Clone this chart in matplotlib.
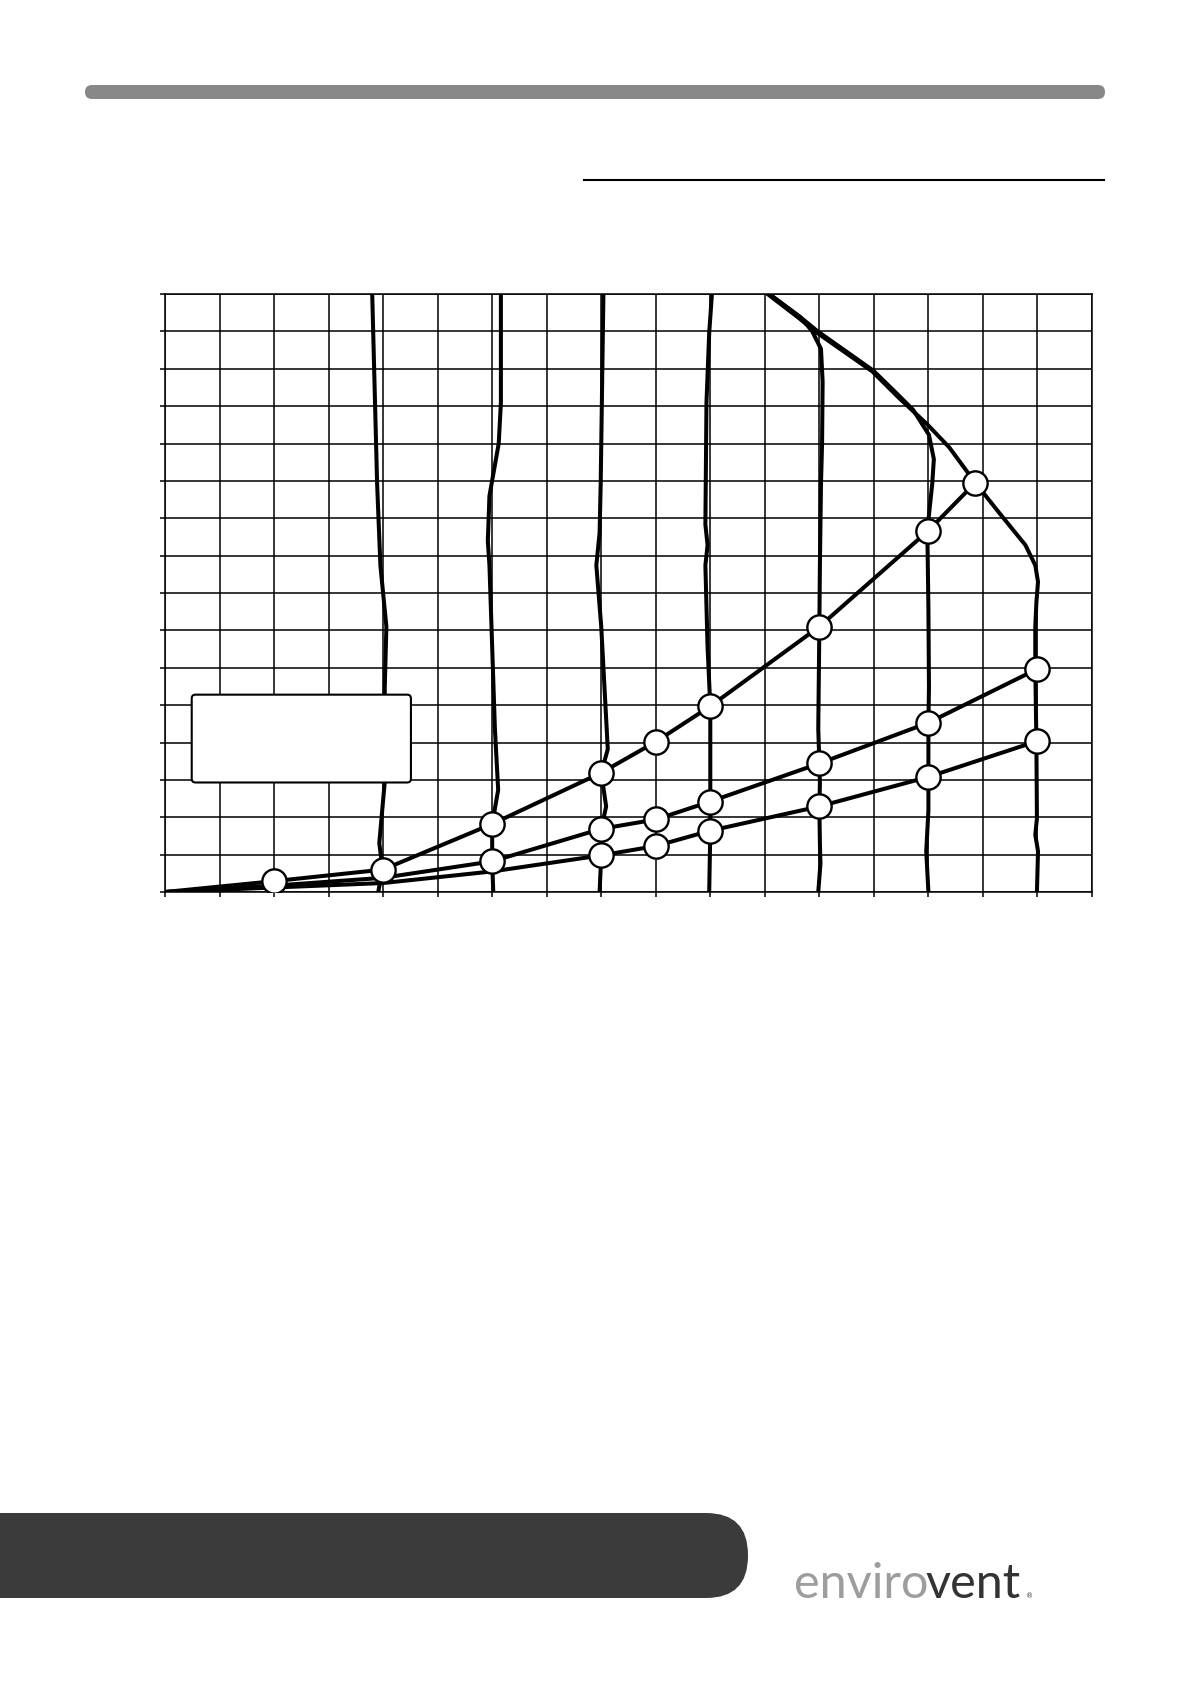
import matplotlib
matplotlib.use("Agg")
import matplotlib.pyplot as plt
from matplotlib.patches import FancyBboxPatch

# chart has no labels, so everything is in grid units (17 x 16 cells)
# system curves
sys_a_x = [0, 2, 4, 6, 8, 9, 10, 12, 14, 14.86]
sys_a_y = [0, 0.29, 0.60, 1.82, 3.19, 4.02, 4.97, 7.10, 9.67, 10.95]
sys_a_marks = [1, 2, 3, 4, 5, 6, 7, 8, 9]

sys_b_x = [0, 2, 4, 6, 8, 9, 10, 12, 14, 16]
sys_b_y = [0, 0.17, 0.38, 0.82, 1.69, 1.94, 2.42, 3.44, 4.53, 5.97]
sys_b_marks = [3, 4, 5, 6, 7, 8, 9]

sys_c_x = [0, 2, 4, 6, 8, 9, 10, 12, 14, 16]
sys_c_y = [0, 0.12, 0.24, 0.55, 0.98, 1.23, 1.64, 2.29, 3.08, 4.04]
sys_c_marks = [4, 5, 6, 7, 8, 9]

# fan speed curves
speed1_x = [3.80, 3.89, 3.95, 4.06, 4.03, 4.03, 3.95, 3.93, 3.99, 3.91]
speed1_y = [16, 10.92, 8.74, 7.10, 5.46, 2.95, 1.64, 1.31, 0.60, 0]

speed2_x = [6.16, 6.16, 6.12, 5.95, 5.92, 5.95, 6.00, 6.05, 6.11, 6.00, 6.00, 6.02]
speed2_y = [16, 13.1, 12.0, 10.6, 9.39, 8.74, 6.55, 4.37, 2.73, 1.82, 0.82, 0]

speed3_x = [8.04, 7.99, 7.97, 7.91, 8.00, 8.06, 8.12, 8.00, 8.09, 8.00, 8.00, 7.97]
speed3_y = [16, 10.92, 9.61, 8.74, 7.10, 5.46, 3.82, 3.19, 2.29, 1.69, 0.98, 0]

speed4_x = [10.03, 9.98, 9.93, 9.91, 9.95, 9.91, 9.95, 10.0, 10.0, 10.0, 9.98]
speed4_y = [16, 14.96, 13.1, 9.83, 9.28, 8.74, 6.55, 4.97, 2.42, 1.64, 0]

speed5_x = [11.08, 11.66, 11.87, 12.03, 12.06, 12.05, 12.03, 12.01, 12.0, 11.98, 12.0, 12.01, 12.0, 12.01, 12.02, 11.98]
speed5_y = [16, 15.37, 15.0, 14.53, 13.65, 12.01, 10.92, 8.74, 7.10, 4.37, 3.44, 2.90, 2.29, 1.31, 0.76, 0]

speed6_x = [11.08, 11.66, 11.97, 12.99, 13.48, 13.72, 14.01, 14.10, 14.07, 13.98, 14.0, 14.01, 14.0, 14.0, 14.0, 13.96, 14.0]
speed6_y = [16, 15.37, 15.0, 13.95, 13.25, 12.90, 12.23, 11.58, 10.92, 9.67, 7.60, 5.46, 4.53, 3.08, 2.18, 1.09, 0]

# max speed envelope
env_x = [11.05, 11.63, 11.94, 12.97, 13.46, 13.98, 14.38, 14.86, 15.29, 15.78, 15.96, 16.01, 15.98, 15.96, 15.96, 15.98, 15.99, 15.96, 16.01, 15.99]
env_y = [16, 15.35, 14.98, 13.93, 13.22, 12.51, 11.9, 10.95, 10.16, 9.28, 8.74, 8.30, 7.75, 7.10, 5.97, 4.04, 1.97, 1.53, 1.09, 0]

W, H = 1191, 1684
fig = plt.figure(figsize=(W / 100, H / 100), dpi=100)

# page furniture in pixel coords
bg = fig.add_axes([0, 0, 1, 1], zorder=0)
bg.set_xlim(0, W)
bg.set_ylim(H, 0)
bg.axis("off")
bg.add_patch(FancyBboxPatch((85, 85), 1020, 14, boxstyle="round,pad=0,rounding_size=7",
                            fc="#878787", ec="none"))
bg.plot([584, 1104], [180, 180], color="black", lw=1.5)
bg.add_patch(FancyBboxPatch((-60, 1513), 808, 85, boxstyle="round,pad=0,rounding_size=42",
                            fc="#3b3b3b", ec="none"))
bg.text(929, 1598, "enviro", ha="right", va="baseline", fontsize=35,
        family="Lato", weight="normal", color="#9d9d9d")
bg.text(925, 1598, "vent", ha="left", va="baseline", fontsize=35,
        family="Lato", weight="normal", color="#333333")
bg.text(1026, 1598, "®", ha="left", va="baseline", fontsize=5, color="#333333")

ax = fig.add_axes([165 / W, 1 - 892 / H, 927 / W, 598 / H], zorder=1)
ax.set_xlim(0, 17)
ax.set_ylim(0, 16)
ax.set_xticks(range(0, 18))
ax.set_yticks(range(0, 17))
ax.tick_params(direction="out", length=3.5, width=1.1, color="black",
               labelbottom=False, labelleft=False)
ax.grid(True, color="black", lw=1.1, zorder=0)
ax.set_axisbelow(True)
for s in ax.spines.values():
    s.set_linewidth(1.1)
    s.set_color("black")

lw = 2.9
for xs, ys in [(speed1_x, speed1_y), (speed2_x, speed2_y), (speed3_x, speed3_y),
               (speed4_x, speed4_y), (speed5_x, speed5_y), (speed6_x, speed6_y),
               (env_x, env_y)]:
    ax.plot(xs, ys, color="black", lw=lw, zorder=3, solid_joinstyle="round")

curves = [(sys_a_x, sys_a_y, sys_a_marks), (sys_b_x, sys_b_y, sys_b_marks),
          (sys_c_x, sys_c_y, sys_c_marks)]
for xs, ys, m in curves:
    ax.plot(xs, ys, color="black", lw=lw, zorder=3, solid_joinstyle="round")
for xs, ys, m in curves:
    ax.plot([xs[i] for i in m], [ys[i] for i in m], "o", ls="none", ms=17.5,
            mfc="white", mec="black", mew=1.7, zorder=4)

# empty legend box
ax.add_patch(FancyBboxPatch((0.49, 2.93), 4.02, 2.35,
                            boxstyle="round,pad=0,rounding_size=0.07",
                            mutation_aspect=54.5 / 37.4,
                            fc="white", ec="black", lw=1.5, zorder=5))

fig.savefig("out.png", dpi=100)
